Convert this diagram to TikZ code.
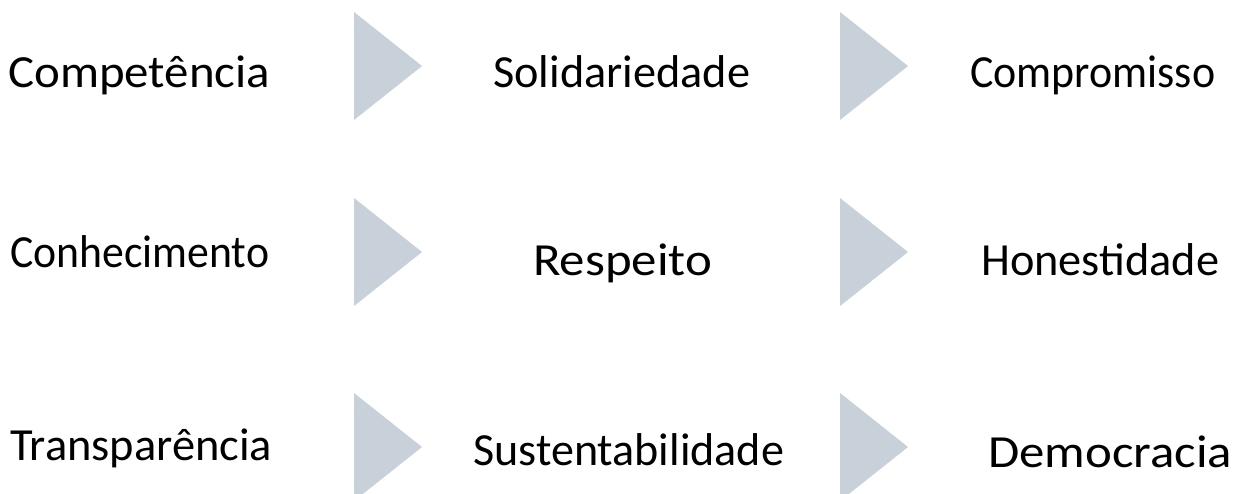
\documentclass[tikz,border=0pt]{standalone}
\usepackage{fontspec}
\usepackage{graphicx}
\setmainfont{Carlito}
\definecolor{trigray}{RGB}{200,208,217}
\newcommand{\fitword}[2]{\resizebox{#1pt}{\height}{#2}}
\tikzset{
  word/.style={anchor=base west, inner sep=0pt, font=\fontsize{46}{50}\selectfont, text=black},
}
\begin{document}
\begin{tikzpicture}[x=1pt,y=-1pt]
\useasboundingbox (0,0) rectangle (1244,493);
\fill[white] (0,0) rectangle (1244,493);
% triangles
\foreach \cx in {354,840}{
  \foreach \ty in {12,198,393}{
    \fill[trigray] (\cx,\ty) -- (\cx+68,\ty+54) -- (\cx,\ty+108) -- cycle;
  }
}
% words
\node[word] (w11) at (8,87) {\fitword{262}{Competência}};
\node[word] (w12) at (493,87) {\fitword{257}{Solidariedade}};
\node[word] (w13) at (970,87) {\fitword{245}{Compromisso}};
\node[word] (w21) at (10,267) {\fitword{259}{Conhecimento}};
\node[word] (w22) at (533,275) {\fitword{179}{Respeito}};
\node[word] (w23) at (981,275) {\fitword{238}{Honestidade}};
\node[word] (w31) at (10,460) {\fitword{262}{Transparência}};
\node[word] (w32) at (473,465) {\fitword{311}{Sustentabilidade}};
\node[word] (w33) at (988,467) {\fitword{244}{Democracia}};
\end{tikzpicture}
\end{document}
